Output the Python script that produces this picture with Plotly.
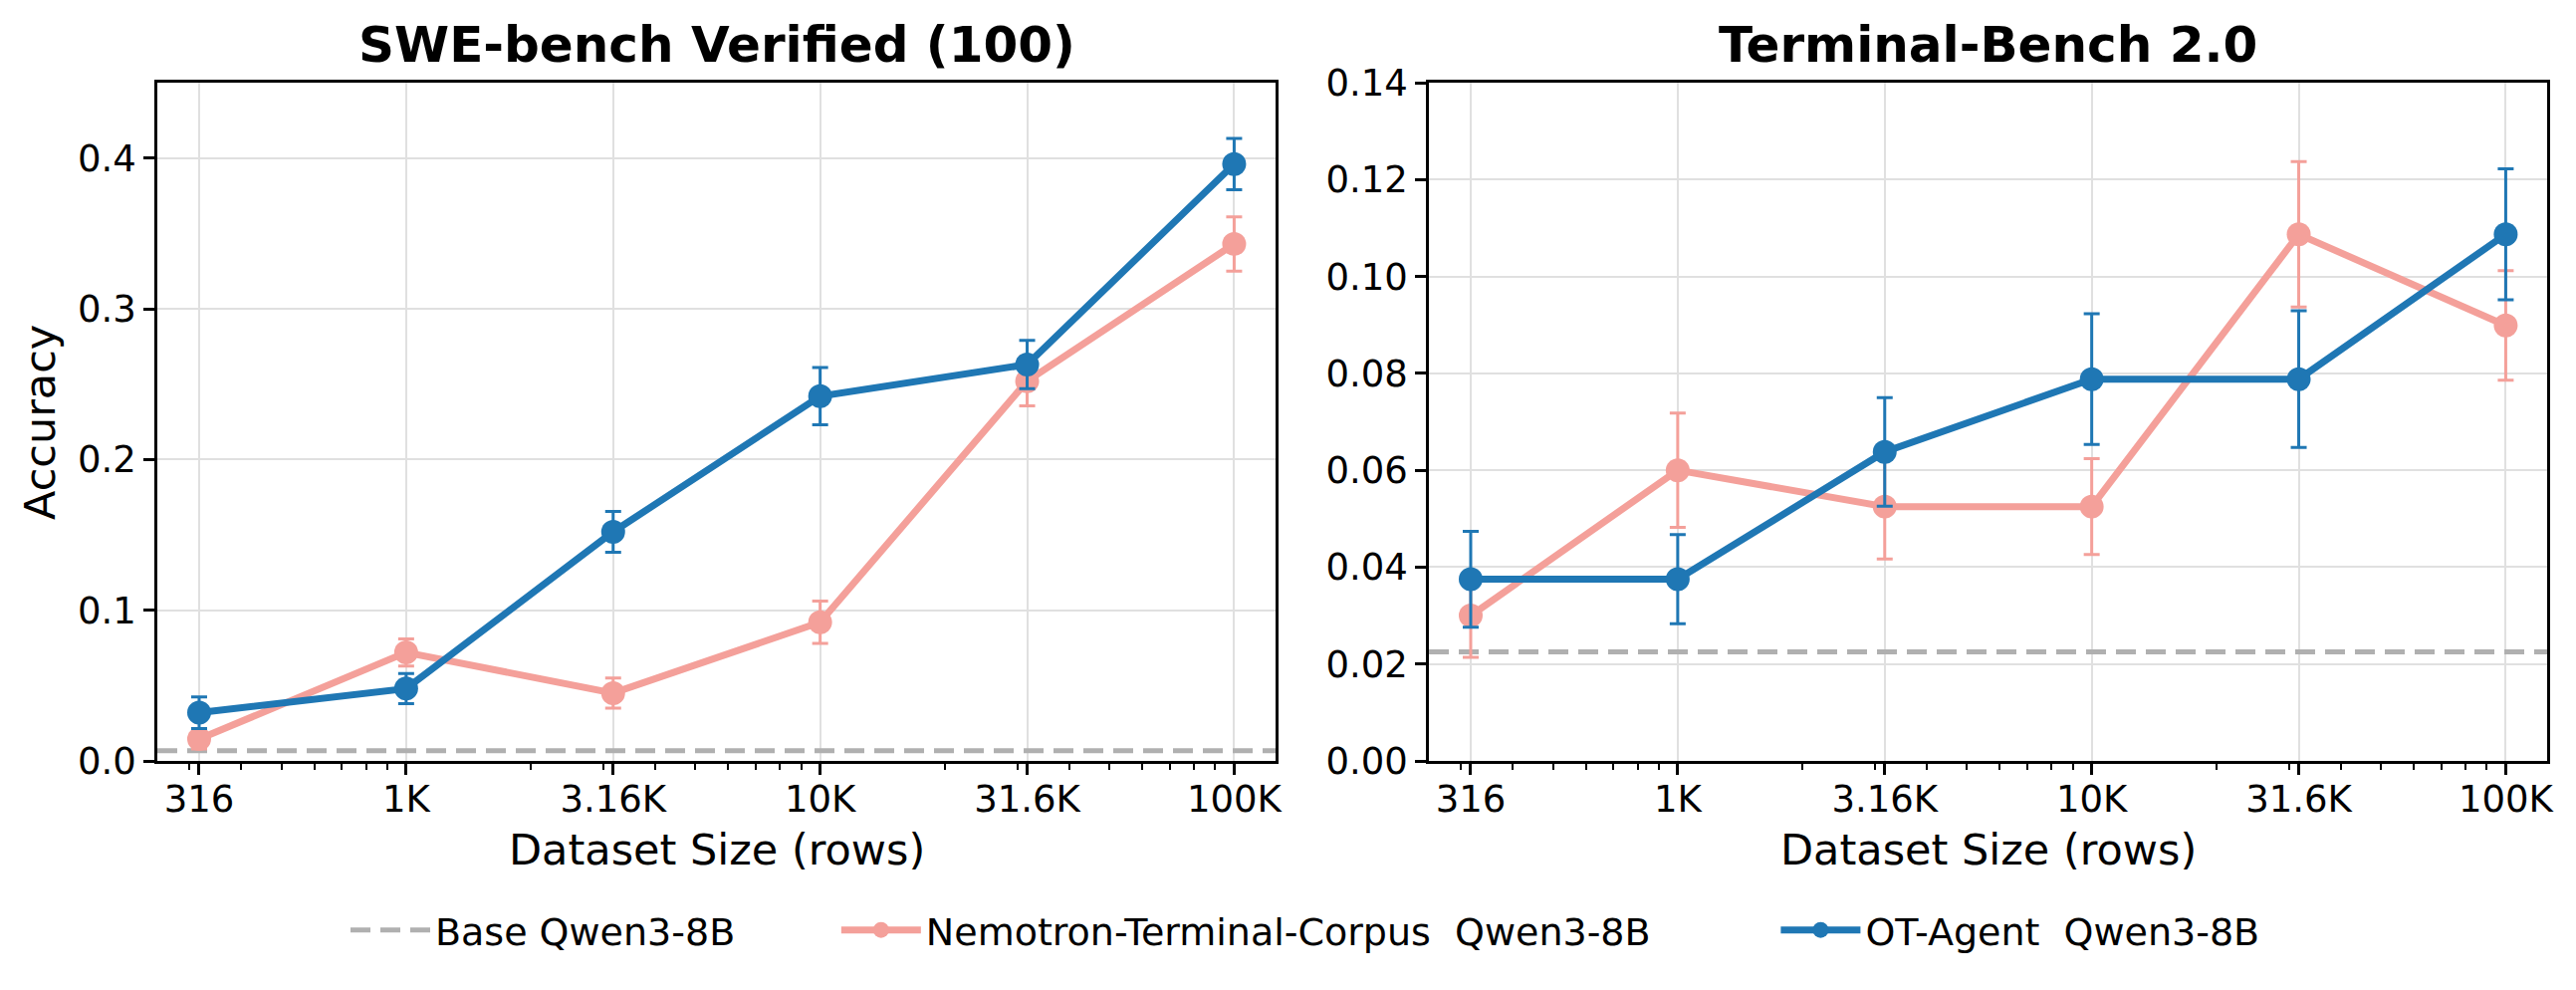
import plotly.graph_objects as go

# ---------------- data ----------------
sizes = [316.23, 1000, 3162.3, 10000, 31623, 100000]
size_labels = ["316", "1K", "3.16K", "10K", "31.6K", "100K"]

swe_ot = [0.032, 0.048, 0.152, 0.242, 0.263, 0.396]
swe_ot_err = [0.0105, 0.010, 0.0135, 0.019, 0.016, 0.017]
swe_nem = [0.0145, 0.072, 0.045, 0.092, 0.252, 0.343]
swe_nem_err = [0.0065, 0.009, 0.010, 0.014, 0.0165, 0.018]
swe_base = 0.0067

tb_ot = [0.0375, 0.0375, 0.0638, 0.0788, 0.0788, 0.1087]
tb_ot_err = [0.0099, 0.0092, 0.0112, 0.0135, 0.0141, 0.0135]
tb_nem = [0.0300, 0.0600, 0.0525, 0.0525, 0.1087, 0.0899]
tb_nem_err = [0.0086, 0.0118, 0.0108, 0.0099, 0.0150, 0.0113]
tb_base = 0.0225

swe_yticks = [0.0, 0.1, 0.2, 0.3, 0.4]
tb_yticks = [0.0, 0.02, 0.04, 0.06, 0.08, 0.10, 0.12, 0.14]

legend_names = ["Base Qwen3-8B", "Nemotron-Terminal-Corpus  Qwen3-8B", "OT-Agent  Qwen3-8B"]

minor_ticks = [m * 10 ** e for e in (2, 3, 4) for m in range(2, 10)]
minor_ticks = [v for v in minor_ticks if 251 < v < 125000]

# ---------------- style ----------------
W, H = 2587, 994
BLUE = "#1f77b4"
PINK = "#F4A09A"
GRAY = "#b0b0b0"
FONT = "DejaVu Sans"
NB = "\u00a0"
legend_pad = [NB * 8, NB * 10, ""]


def px_x(p):
    return p / W


def px_y(p):
    return 1 - p / H


left_dom = [px_x(158), px_x(1281)]
right_dom = [px_x(1435), px_x(2558)]
y_dom = [px_y(764), px_y(83)]

fig = go.Figure()

for xa, ya, base, nem, nem_err, ot, ot_err, show in [
    ("x", "y", swe_base, swe_nem, swe_nem_err, swe_ot, swe_ot_err, True),
    ("x2", "y2", tb_base, tb_nem, tb_nem_err, tb_ot, tb_ot_err, False),
]:
    fig.add_trace(go.Scatter(
        x=[10 ** 2.399, 10 ** 5.1], y=[base, base], mode="lines",
        line=dict(color=GRAY, width=5, dash="20px,10px"),
        name=legend_names[0] + legend_pad[0], legendgroup="base", showlegend=show,
        xaxis=xa, yaxis=ya, hoverinfo="skip"))
    fig.add_trace(go.Scatter(
        x=sizes, y=nem, mode="lines+markers",
        line=dict(color=PINK, width=7),
        marker=dict(color=PINK, size=24),
        error_y=dict(type="data", array=nem_err, color=PINK, thickness=3, width=8),
        name=legend_names[1] + legend_pad[1], legendgroup="nem", showlegend=show,
        xaxis=xa, yaxis=ya))
    fig.add_trace(go.Scatter(
        x=sizes, y=ot, mode="lines+markers",
        line=dict(color=BLUE, width=7),
        marker=dict(color=BLUE, size=24),
        error_y=dict(type="data", array=ot_err, color=BLUE, thickness=3, width=8),
        name=legend_names[2] + legend_pad[2], legendgroup="ot", showlegend=show,
        xaxis=xa, yaxis=ya))

axis_common = dict(
    showline=True, linecolor="black", linewidth=2.5, mirror=True,
    ticks="outside", ticklen=11, tickwidth=2.5, tickcolor="black",
    showgrid=True, gridcolor="#e0e0e0", gridwidth=2,
    zeroline=False, automargin=False,
    tickfont=dict(family=FONT, size=37, color="black"),
)

xaxis_common = dict(
    axis_common, type="log", range=[2.399, 5.1],
    tickmode="array", tickvals=sizes, ticktext=size_labels,
    ticklabelstandoff=-7,
    minor=dict(tickvals=minor_ticks, ticks="outside", ticklen=6, tickwidth=2,
               tickcolor="black", showgrid=False),
)

fig.update_layout(
    width=W, height=H,
    margin=dict(l=0, r=0, t=0, b=0, autoexpand=False),
    paper_bgcolor="white", plot_bgcolor="white",
    font=dict(family=FONT, size=37, color="black"),
    showlegend=True,
    legend=dict(orientation="h", x=px_x(347), xanchor="left", y=px_y(934), yanchor="middle",
                font=dict(family=FONT, size=38, color="black"), bgcolor="rgba(0,0,0,0)",
                itemwidth=80),
    xaxis=dict(xaxis_common, domain=left_dom, anchor="y"),
    yaxis=dict(axis_common, domain=y_dom, anchor="x", range=[0, 0.45],
               tickmode="array", tickvals=swe_yticks, tickformat=".1f"),
    xaxis2=dict(xaxis_common, domain=right_dom, anchor="y2"),
    yaxis2=dict(axis_common, domain=y_dom, anchor="x2", range=[0, 0.14],
                tickmode="array", tickvals=tb_yticks, tickformat=".2f"),
)

annotations = [
    dict(text="<b>SWE-bench Verified (100)</b>", x=(left_dom[0] + left_dom[1]) / 2, y=px_y(45),
         font=dict(size=50)),
    dict(text="<b>Terminal-Bench 2.0</b>", x=(right_dom[0] + right_dom[1]) / 2, y=px_y(45),
         font=dict(size=50)),
    dict(text="Dataset Size (rows)", x=(left_dom[0] + left_dom[1]) / 2, y=px_y(853),
         font=dict(size=43)),
    dict(text="Dataset Size (rows)", x=(right_dom[0] + right_dom[1]) / 2, y=px_y(853),
         font=dict(size=43)),
    dict(text="Accuracy", x=px_x(40), y=px_y(424), textangle=-90, font=dict(size=43)),
]
for a in annotations:
    a.update(xref="paper", yref="paper", showarrow=False, xanchor="center", yanchor="middle")
    a["font"] = dict(family=FONT, color="black", **a["font"])
fig.update_layout(annotations=annotations)

fig.write_html("out.html")
